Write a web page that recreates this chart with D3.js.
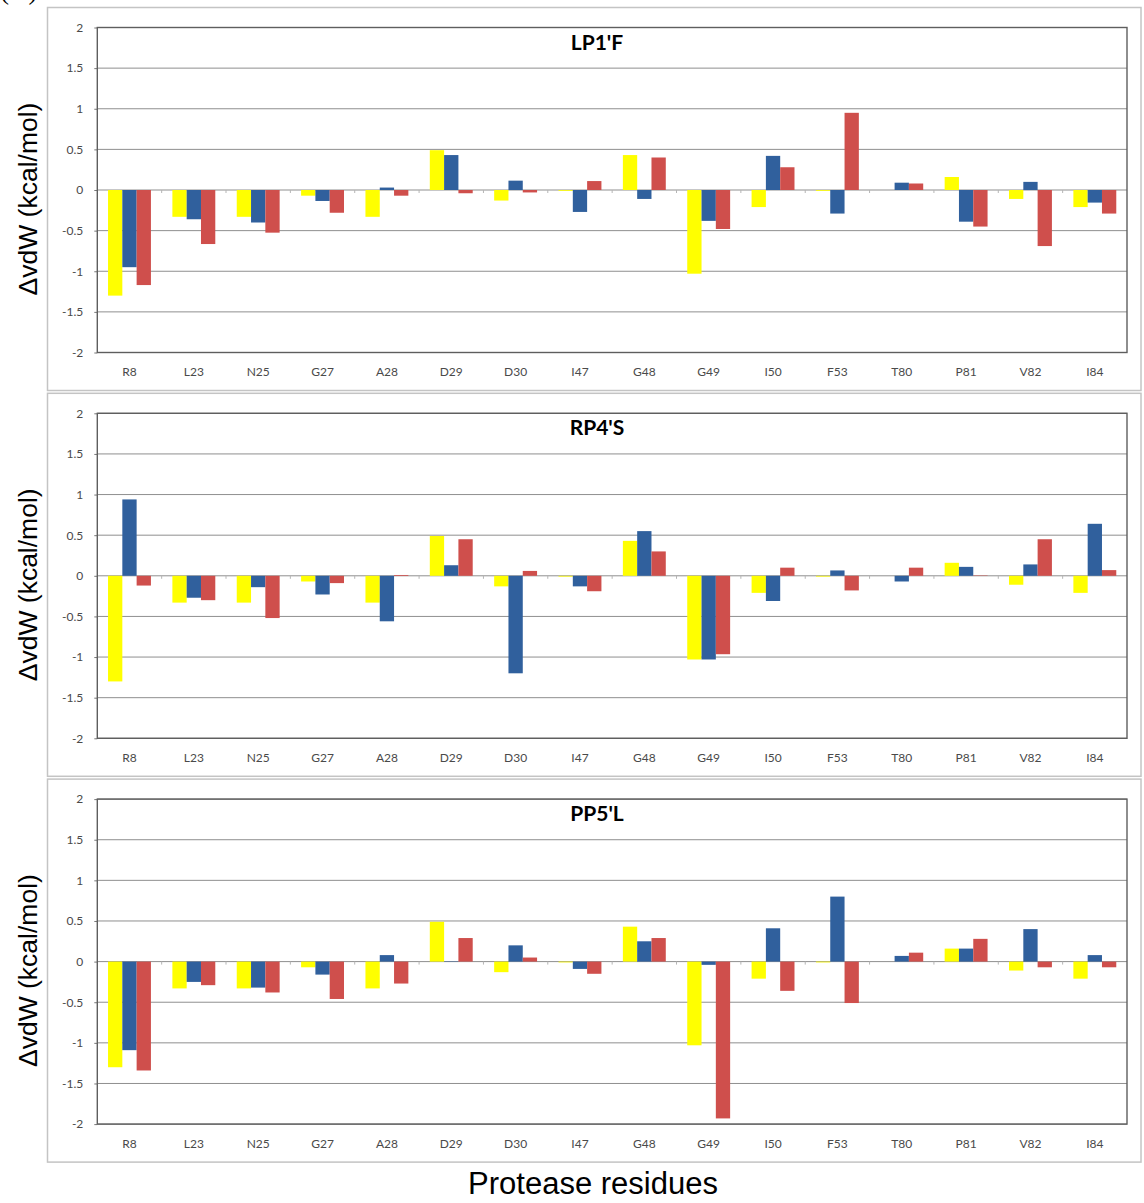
<!DOCTYPE html>
<html>
<head>
<meta charset="utf-8">
<script src="https://cdn.jsdelivr.net/npm/d3@7"></script>
<style>
	body { margin: 0; background: #fff; }
	svg { display: block; }
	.grid line { stroke: #8f8f8f; stroke-width: 1; }
	.axis text { font-family: Lato, "Open Sans", sans-serif; font-size: 12px; fill: #4a4a4a; }
	.axis path { display: none; }
	.axis line { stroke: #777; }
</style>
</head>
<body>
<div id="chart"></div>
<script>
"use strict";

// DATA : residues on X, one bar per series, three panels

var residues = ["R8", "L23", "N25", "G27", "A28", "D29", "D30", "I47", "G48", "G49", "I50", "F53", "T80", "P81", "V82", "I84"];
var yTicks = [-2, -1.5, -1, -0.5, 0, 0.5, 1, 1.5, 2];
var panelTitles = ["LP1'F", "RP4'S", "PP5'L"];

// yellow series, identical in the three panels
var reference = [-1.30, -0.33, -0.33, -0.07, -0.33, 0.49, -0.13, -0.01, 0.43, -1.03, -0.21, -0.01, 0.00, 0.16, -0.11, -0.21];

var lp1fBlue = [-0.95, -0.36, -0.40, -0.135, 0.03, 0.43, 0.115, -0.27, -0.11, -0.38, 0.42, -0.29, 0.09, -0.39, 0.10, -0.155];
var lp1fRed = [-1.17, -0.665, -0.525, -0.28, -0.07, -0.04, -0.03, 0.11, 0.40, -0.48, 0.28, 0.95, 0.08, -0.45, -0.69, -0.29];

var rp4sBlue = [0.94, -0.27, -0.14, -0.23, -0.56, 0.13, -1.20, -0.13, 0.55, -1.03, -0.31, 0.066, -0.07, 0.11, 0.14, 0.64];
var rp4sRed = [-0.12, -0.30, -0.52, -0.09, 0.01, 0.45, 0.06, -0.19, 0.30, -0.965, 0.10, -0.18, 0.10, 0.005, 0.45, 0.07];

var pp5lBlue = [-1.09, -0.25, -0.32, -0.16, 0.08, -0.005, 0.20, -0.09, 0.25, -0.04, 0.41, 0.80, 0.07, 0.16, 0.40, 0.08];
var pp5lRed = [-1.34, -0.29, -0.38, -0.46, -0.27, 0.29, 0.05, -0.15, 0.29, -1.93, -0.36, -0.51, 0.11, 0.28, -0.07, -0.07];

var series = ["ref", "blue", "red"];
var couleurs = { ref: "#ffff00", blue: "#30609d", red: "#cf4f4c" };

var panels = [
	{ title: panelTitles[0], ref: reference, blue: lp1fBlue, red: lp1fRed },
	{ title: panelTitles[1], ref: reference, blue: rp4sBlue, red: rp4sRed },
	{ title: panelTitles[2], ref: reference, blue: pp5lBlue, red: pp5lRed }
];

/*
	DIMENSIONS	****	****	****	****	*/

var W = 1144, H = 1203;
var pas = 385.8; // vertical step between panels
var plot = { left: 97.3, right: 1127, top: 27.5, height: 325 };
var cadre = { left: 47.5, right: 1141, top: 7.5, height: 383 };

var svg = d3.select("#chart")
.append("svg")
.attr("width", W)
.attr("height", H);

// (A) label, mostly cut by the top edge as in the original
svg.append("text")
.attr("x", 0)
.attr("y", -1)
.style("font-family", "'Liberation Serif', serif")
.style("font-size", "27px")
.text("(A)");

var x0 = d3.scaleBand()
.domain(residues)
.range([plot.left, plot.right])
.paddingInner(1.5 / 4.5)
.paddingOuter(0.75 / 4.5);

var x1 = d3.scaleBand()
.domain(series)
.range([0, x0.bandwidth()]);

var y = d3.scaleLinear()
.domain([-2, 2])
.range([plot.height, 0]);

var fmt = d => String(d); // hyphen minus as in the original

panels.forEach(function (p, i) {
	var g = svg.append("g")
	.attr("transform", "translate(0," + (i * pas) + ")");

// outer frame of the panel
	g.append("rect")
	.attr("x", cadre.left)
	.attr("y", cadre.top)
	.attr("width", cadre.right - cadre.left)
	.attr("height", cadre.height)
	.attr("fill", "#fff")
	.attr("stroke", "#c4c4c4")
	.attr("stroke-width", 1.5);

	var gp = g.append("g")
	.attr("transform", "translate(0," + plot.top + ")");

// grid
	gp.append("g")
	.attr("class", "grid")
	.selectAll("line")
	.data(yTicks)
	.enter()
		.append("line")
		.attr("x1", plot.left)
		.attr("x2", plot.right)
		.attr("y1", d => y(d))
		.attr("y2", d => y(d));

// y axis
	gp.append("g")
	.attr("class", "axis")
	.attr("transform", "translate(" + plot.left + ",0)")
	.call(d3.axisLeft(y)
		.tickValues(yTicks)
		.tickFormat(fmt)
		.tickSize(3)
		.tickPadding(11));

// x labels
	gp.append("g")
	.attr("class", "axis")
	.attr("transform", "translate(0," + plot.height + ")")
	.call(d3.axisBottom(x0)
		.tickSize(0)
		.tickPadding(15));

// small category ticks on the zero line
	gp.append("g")
	.selectAll("line")
	.data(residues.slice(1))
	.enter()
		.append("line")
		.attr("x1", d => x0(d) - x0.step() * x0.paddingInner() / 2)
		.attr("x2", d => x0(d) - x0.step() * x0.paddingInner() / 2)
		.attr("y1", y(0))
		.attr("y2", y(0) + 3)
		.attr("stroke", "#b5b5b5");

// bars
	gp.append("g")
	.selectAll("g")
	.data(residues)
	.enter()
		.append("g")
		.attr("transform", d => "translate(" + x0(d) + ",0)")
		.selectAll("rect")
		.data((d, j) => series.map(s => ({ s: s, v: p[s][j] })))
		.enter()
			.append("rect")
			.attr("x", d => x1(d.s))
			.attr("width", x1.bandwidth())
			.attr("y", d => y(Math.max(0, d.v)))
			.attr("height", d => Math.abs(y(d.v) - y(0)))
			.attr("fill", d => couleurs[d.s]);

// plot border
	gp.append("rect")
	.attr("x", plot.left)
	.attr("y", 0)
	.attr("width", plot.right - plot.left)
	.attr("height", plot.height)
	.attr("fill", "none")
	.attr("stroke", "#5e5e5e")
	.attr("stroke-width", 1.4);

// title
	gp.append("text")
	.attr("x", 597)
	.attr("y", 22)
	.attr("text-anchor", "middle")
	.style("font-family", "Lato, 'Open Sans', sans-serif")
	.style("font-weight", "bold")
	.style("font-size", "21px")
	.text(p.title);

// y label
	g.append("text")
	.attr("transform", "translate(37," + (cadre.top + cadre.height / 2) + ") rotate(-90)")
	.attr("text-anchor", "middle")
	.style("font-family", "'Liberation Sans', Arial, sans-serif")
	.style("font-size", "26.5px")
	.text("ΔvdW (kcal/mol)");
});

// x title
svg.append("text")
.attr("x", 593)
.attr("y", 1194)
.attr("text-anchor", "middle")
.style("font-family", "'Liberation Sans', Arial, sans-serif")
.style("font-size", "31px")
.text("Protease residues");
</script>
</body>
</html>
